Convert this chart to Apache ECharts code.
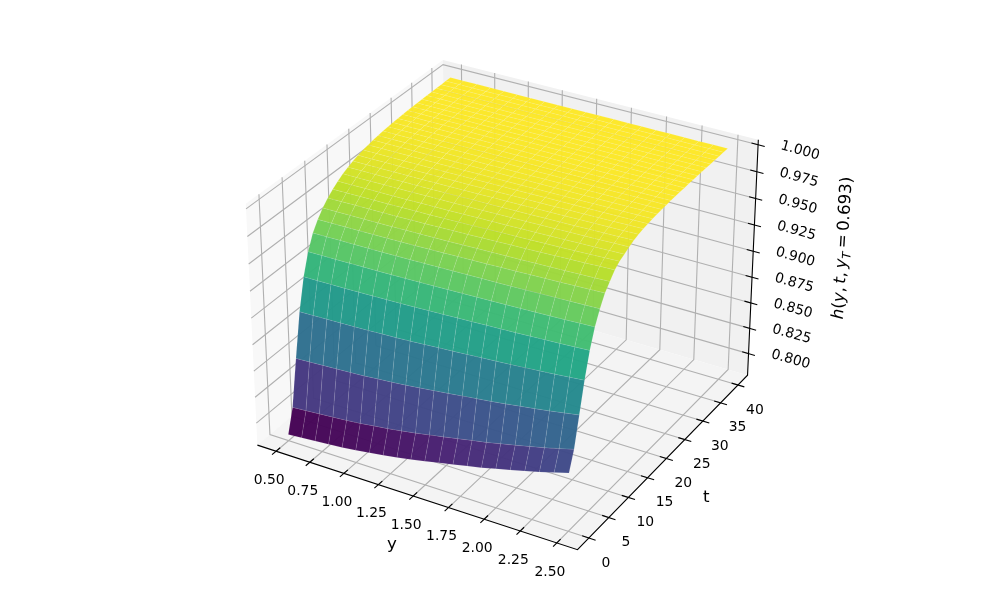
<!DOCTYPE html>
<html>
<head>
<meta charset="utf-8">
<title>h(y, t)</title>
<script src="https://cdn.jsdelivr.net/npm/echarts@6/dist/echarts.min.js"></script>
<style>
  html, body { margin: 0; padding: 0; background: #fff; }
  #chart { width: 1000px; height: 600px; }
</style>
</head>
<body>
<div id="chart"></div>
<script>
// values
const yValues = [0.5,0.6,0.7,0.8,0.9,1.0,1.1,1.2,1.3,1.4,1.5,1.6,1.7,1.8,1.9,2.0,2.1,2.2,2.3,2.4,2.5];
const tValues = [0,1.18,2.35,3.53,4.71,5.88,7.06,8.24,9.41,10.59,11.76,12.94,14.12,15.29,16.47,17.65,18.82,20,21.18,22.35,23.53,24.71,25.88,27.06,28.24,29.41,30.59,31.76,32.94,34.12,35.29,36.47,37.65,38.82,40];
// one row per t, one column per y
const hValues = [
  [.7845,.7855,.7867,.7877,.7889,.7904,.7924,.7941,.7963,.7987,.8014,.8041,.8068,.8098,.8125,.8157,.8189,.8223,.8257,.8297,.8336],
  [.8067,.8076,.8087,.8096,.8107,.812,.8138,.8154,.8174,.8196,.822,.8245,.8269,.8296,.832,.8349,.8378,.8409,.844,.8475,.8511],
  [.8498,.8504,.8511,.8517,.8524,.8532,.8544,.8554,.8567,.8581,.8597,.8613,.8629,.8646,.8662,.868,.8699,.8719,.8739,.8762,.8785],
  [.8901,.8904,.8908,.8911,.8915,.892,.8926,.8932,.8939,.8947,.8956,.8965,.8973,.8983,.8992,.9002,.9012,.9023,.9035,.9047,.906],
  [.919,.9192,.9194,.9196,.9199,.9202,.9206,.9209,.9214,.9219,.9224,.923,.9235,.9241,.9246,.9253,.9259,.9266,.9273,.9281,.9289],
  [.9386,.9387,.9389,.9391,.9393,.9395,.9398,.94,.9404,.9407,.9412,.9416,.942,.9424,.9428,.9433,.9438,.9443,.9448,.9454,.946],
  [.9522,.9523,.9525,.9526,.9527,.9529,.9532,.9534,.9537,.954,.9543,.9546,.955,.9553,.9557,.9561,.9565,.9569,.9573,.9578,.9583],
  [.961,.9612,.9613,.9615,.9617,.9619,.9622,.9625,.9628,.9632,.9636,.964,.9644,.9649,.9653,.9658,.9663,.9668,.9673,.9679,.9685],
  [.968,.9681,.9683,.9684,.9686,.9688,.9691,.9693,.9697,.97,.9704,.9708,.9711,.9716,.9719,.9724,.9728,.9733,.9738,.9743,.9749],
  [.9735,.9737,.9739,.974,.9742,.9744,.9748,.975,.9754,.9758,.9762,.9767,.9771,.9776,.978,.9785,.979,.9796,.9801,.9808,.9814],
  [.978,.9781,.9783,.9785,.9786,.9789,.9792,.9794,.9797,.9801,.9805,.9809,.9813,.9817,.9821,.9826,.983,.9835,.984,.9846,.9852],
  [.9818,.9819,.9821,.9822,.9823,.9825,.9828,.983,.9832,.9835,.9839,.9842,.9845,.9849,.9852,.9856,.986,.9864,.9868,.9873,.9878],
  [.985,.9851,.9852,.9854,.9855,.9857,.9859,.9861,.9863,.9866,.9869,.9872,.9875,.9878,.9881,.9885,.9889,.9892,.9896,.9901,.9905],
  [.9876,.9877,.9878,.9879,.9881,.9882,.9884,.9886,.9888,.9891,.9893,.9896,.9899,.9902,.9905,.9908,.9911,.9915,.9918,.9922,.9926],
  [.9897,.9898,.9899,.99,.9901,.9902,.9904,.9906,.9908,.991,.9913,.9915,.9917,.992,.9923,.9926,.9929,.9932,.9935,.9938,.9942],
  [.9915,.9916,.9917,.9918,.9919,.992,.9921,.9923,.9924,.9926,.9928,.9931,.9933,.9935,.9937,.994,.9942,.9945,.9948,.9951,.9954],
  [.993,.9931,.9931,.9932,.9933,.9934,.9935,.9936,.9938,.994,.9941,.9943,.9945,.9947,.9949,.9951,.9953,.9955,.9958,.996,.9963],
  [.9942,.9943,.9943,.9944,.9945,.9945,.9946,.9947,.9949,.995,.9952,.9953,.9955,.9956,.9958,.996,.9962,.9964,.9966,.9968,.997],
  [.9952,.9952,.9953,.9954,.9954,.9955,.9956,.9957,.9958,.9959,.996,.9962,.9963,.9964,.9966,.9967,.9969,.997,.9972,.9974,.9976],
  [.996,.996,.9961,.9961,.9962,.9963,.9963,.9964,.9965,.9966,.9967,.9968,.997,.9971,.9972,.9973,.9975,.9976,.9978,.9979,.9981],
  [.9967,.9967,.9968,.9968,.9969,.9969,.997,.997,.9971,.9972,.9973,.9974,.9975,.9976,.9977,.9978,.998,.9981,.9982,.9984,.9985],
  [.9973,.9973,.9974,.9974,.9974,.9975,.9975,.9976,.9977,.9977,.9978,.9979,.998,.9981,.9982,.9983,.9984,.9985,.9986,.9987,.9988],
  [.9978,.9978,.9979,.9979,.9979,.9979,.998,.998,.9981,.9981,.9982,.9983,.9983,.9984,.9985,.9986,.9986,.9987,.9988,.9989,.999],
  [.9982,.9982,.9982,.9983,.9983,.9983,.9984,.9984,.9984,.9985,.9985,.9986,.9987,.9987,.9988,.9988,.9989,.999,.999,.9991,.9992],
  [.9985,.9985,.9985,.9986,.9986,.9986,.9986,.9987,.9987,.9988,.9988,.9989,.9989,.999,.999,.9991,.9991,.9992,.9993,.9993,.9994],
  [.9988,.9988,.9988,.9988,.9989,.9989,.9989,.9989,.999,.999,.999,.9991,.9991,.9992,.9992,.9992,.9993,.9993,.9994,.9994,.9995],
  [.999,.999,.999,.999,.9991,.9991,.9991,.9991,.9991,.9992,.9992,.9992,.9993,.9993,.9993,.9994,.9994,.9995,.9995,.9996,.9996],
  [.9992,.9992,.9992,.9992,.9992,.9993,.9993,.9993,.9993,.9993,.9994,.9994,.9994,.9995,.9995,.9995,.9996,.9996,.9996,.9997,.9997],
  [.9994,.9994,.9994,.9994,.9994,.9994,.9994,.9995,.9995,.9995,.9995,.9995,.9995,.9996,.9996,.9996,.9996,.9996,.9997,.9997,.9997],
  [.9995,.9995,.9995,.9995,.9995,.9995,.9995,.9996,.9996,.9996,.9996,.9996,.9996,.9997,.9997,.9997,.9997,.9997,.9998,.9998,.9998],
  [.9996,.9996,.9996,.9996,.9996,.9996,.9996,.9996,.9996,.9996,.9997,.9997,.9997,.9997,.9997,.9997,.9997,.9998,.9998,.9998,.9998],
  [.9997,.9997,.9997,.9997,.9997,.9997,.9997,.9997,.9997,.9997,.9997,.9998,.9998,.9998,.9998,.9998,.9998,.9999,.9999,.9999,.9999],
  [.9998,.9998,.9998,.9998,.9998,.9998,.9998,.9998,.9998,.9998,.9998,.9998,.9999,.9999,.9999,.9999,.9999,.9999,.9999,.9999,.9999],
  [.9999,.9999,.9999,.9999,.9999,.9999,.9999,.9999,.9999,.9999,.9999,.9999,.9999,.9999,1,1,1,1,1,1,1],
  [1,1,1,1,1,1,1,1,1,1,1,1,1,1,1,1,1,1,1,1,1]
];

const yTicks = [0.5,0.75,1,1.25,1.5,1.75,2,2.25,2.5];
const tTicks = [0,5,10,15,20,25,30,35,40];
const hTicks = [0.8,0.825,0.85,0.875,0.9,0.925,0.95,0.975,1];

const yLim = [0.36, 2.64];
const tLim = [-2.8, 42.8];
const hLim = [0.7785, 1.0045];

const viridis = ['#440154','#482475','#414487','#355f8d','#2a788e','#21918c','#22a884','#44bf70','#7ad151','#bddf26','#fde725'];

// 3d view, same camera as the original plot (elev 30, azim -60, dist 10)
const dist = 10;
const box = [1.1906, 1.1906, 0.8929];
const w = [0.433, -0.75, 0.5];
const u = [0.866, 0.5, 0];
const v = [-0.25, 0.433, 0.866];
const pxPerUnit = 3080;

const dot = (a, b) => a[0] * b[0] + a[1] * b[1] + a[2] * b[2];

const project = (yv, tv, hv) => {
  const p = [
    ((yv - yLim[0]) / (yLim[1] - yLim[0]) - 0.5) * box[0],
    ((tv - tLim[0]) / (tLim[1] - tLim[0]) - 0.5) * box[1],
    ((hv - hLim[0]) / (hLim[1] - hLim[0]) - 0.5) * box[2]
  ];
  const d = dist - dot(p, w);
  return [dot(p, u) / d, dot(p, v) / d];
};

const hexToRgb = (hex) => [1, 3, 5].map(i => parseInt(hex.slice(i, i + 2), 16));

const colorAt = (f) => {
  const pos = Math.min(Math.max(f, 0), 1) * (viridis.length - 1);
  const i = Math.min(Math.floor(pos), viridis.length - 2);
  const a = hexToRgb(viridis[i]);
  const b = hexToRgb(viridis[i + 1]);
  const k = pos - i;
  return 'rgb(' + a.map((c, n) => Math.round(c + (b[n] - c) * k)).join(',') + ')';
};

// cells, far ones first so the near ones paint over them
const cells = [];
for (let r = tValues.length - 2; r >= 0; r--) {
  for (let c = 0; c < yValues.length - 1; c++) {
    const avg = (hValues[r][c] + hValues[r][c + 1] + hValues[r + 1][c] + hValues[r + 1][c + 1]) / 4;
    cells.push({ r, c, avg });
  }
}
const avgs = cells.map(d => d.avg);
const avgMin = Math.min(...avgs);
const avgMax = Math.max(...avgs);

const [y0, y1] = yLim;
const [t0, t1] = tLim;
const [h0, h1] = hLim;

const panes = [
  { pts: [[y0, t0, h0], [y0, t1, h0], [y0, t1, h1], [y0, t0, h1]], fill: '#f8f8f8' },
  { pts: [[y0, t1, h0], [y1, t1, h0], [y1, t1, h1], [y0, t1, h1]], fill: '#f1f1f1' },
  { pts: [[y0, t0, h0], [y1, t0, h0], [y1, t1, h0], [y0, t1, h0]], fill: '#f4f4f4' }
];

const gridLines = [
  ...yTicks.map(y => [[y, t0, h0], [y, t1, h0], [y, t1, h1]]),
  ...tTicks.map(t => [[y1, t, h0], [y0, t, h0], [y0, t, h1]]),
  ...hTicks.map(h => [[y0, t0, h], [y0, t1, h], [y1, t1, h]])
];

const yTickLen = (t1 - t0) * 0.02;
const tTickLen = (y1 - y0) * 0.02;
const axisLines = [
  [[y0, t0, h0], [y1, t0, h0], [y1, t1, h0], [y1, t1, h1]],
  ...yTicks.map(y => [[y, t0 + yTickLen, h0], [y, t0 - yTickLen, h0]]),
  ...tTicks.map(t => [[y1 - tTickLen, t, h0], [y1 + tTickLen, t, h0]]),
  ...hTicks.map(h => [[y1 - tTickLen, t1, h], [y1 + tTickLen, t1, h]])
];

const tickFont = '13.9px "DejaVu Sans"';
const labels = [
  ...yTicks.map(y => ({ at: [y, t0, h0], dx: -7, dy: 29, text: y.toFixed(2), font: tickFont })),
  ...tTicks.map(t => ({ at: [y1, t, h0], dx: 17, dy: 25, text: String(t), font: tickFont })),
  ...hTicks.map(h => ({ at: [y1, t1, h], dx: 42, dy: 6, text: h.toFixed(3), font: tickFont, rot: -15.5 }))
];

const lineStyleItem = (api, pts, stroke, lineWidth) => ({
  type: 'polyline',
  shape: { points: pts.map(p => api.coord(project(p[0], p[1], p[2]))) },
  style: { stroke, lineWidth, fill: null }
});

const option = {
  animation: false,
  backgroundColor: '#fff',
  grid: { left: 0, right: 0, top: 0, bottom: 0 },
  xAxis: { type: 'value', show: false, min: -507 / pxPerUnit, max: 493 / pxPerUnit },
  yAxis: { type: 'value', show: false, min: -307 / pxPerUnit, max: 293 / pxPerUnit },
  series: [
    {
      type: 'custom', silent: true, clip: false,
      data: panes.map((d, i) => [i]),
      renderItem: (params, api) => {
        const pane = panes[params.dataIndex];
        return {
          type: 'polygon',
          shape: { points: pane.pts.map(p => api.coord(project(p[0], p[1], p[2]))) },
          style: { fill: pane.fill }
        };
      }
    },
    {
      type: 'custom', silent: true, clip: false,
      data: gridLines.map((d, i) => [i]),
      renderItem: (params, api) => lineStyleItem(api, gridLines[params.dataIndex], '#b0b0b0', 1.1)
    },
    {
      type: 'custom', silent: true, clip: false,
      data: axisLines.map((d, i) => [i]),
      renderItem: (params, api) => lineStyleItem(api, axisLines[params.dataIndex], '#000', 1.1)
    },
    {
      type: 'custom', silent: true, clip: false,
      data: cells.map(d => [yValues[d.c], tValues[d.r], d.avg]),
      renderItem: (params, api) => {
        const { r, c, avg } = cells[params.dataIndex];
        const corners = [[r, c], [r, c + 1], [r + 1, c + 1], [r + 1, c]];
        return {
          type: 'polygon',
          shape: {
            points: corners.map(([i, j]) => api.coord(project(yValues[j], tValues[i], hValues[i][j])))
          },
          style: {
            fill: colorAt((avg - avgMin) / (avgMax - avgMin)),
            stroke: 'rgba(255,255,255,0.22)',
            lineWidth: 0.4,
            opacity: 0.97
          }
        };
      }
    },
    {
      type: 'custom', silent: true, clip: false,
      data: labels.map((d, i) => [i]),
      renderItem: (params, api) => {
        const d = labels[params.dataIndex];
        const pos = api.coord(project(d.at[0], d.at[1], d.at[2]));
        return {
          type: 'text',
          x: pos[0] + d.dx,
          y: pos[1] + d.dy,
          rotation: (d.rot || 0) * Math.PI / 180,
          style: { text: d.text, font: d.font, fill: '#000', align: 'center', verticalAlign: 'middle' }
        };
      }
    }
  ],
  graphic: [
    { type: 'text', left: 387, top: 536, silent: true, style: { text: 'y', font: '16.7px "DejaVu Sans"', fill: '#000' } },
    { type: 'text', left: 703, top: 489, silent: true, style: { text: 't', font: '16.7px "DejaVu Sans"', fill: '#000' } },
    {
      type: 'text', x: 843, y: 248, rotation: 86.4 * Math.PI / 180, silent: true,
      style: {
        text: '{i|h}({i|y},\u2009{i|t},\u2009{i|y}{s|T}\u2009=\u20090.693)',
        font: '16.7px "DejaVu Sans"', fill: '#000', align: 'center', verticalAlign: 'middle',
        rich: {
          i: { font: 'italic 16.7px "DejaVu Sans"', fill: '#000' },
          s: { font: 'italic 11.7px "DejaVu Sans"', fill: '#000', verticalAlign: 'bottom', lineHeight: 22 }
        }
      }
    }
  ]
};

const chart = echarts.init(document.getElementById('chart'), null, { renderer: 'canvas' });
chart.setOption(option);
</script>
</body>
</html>
